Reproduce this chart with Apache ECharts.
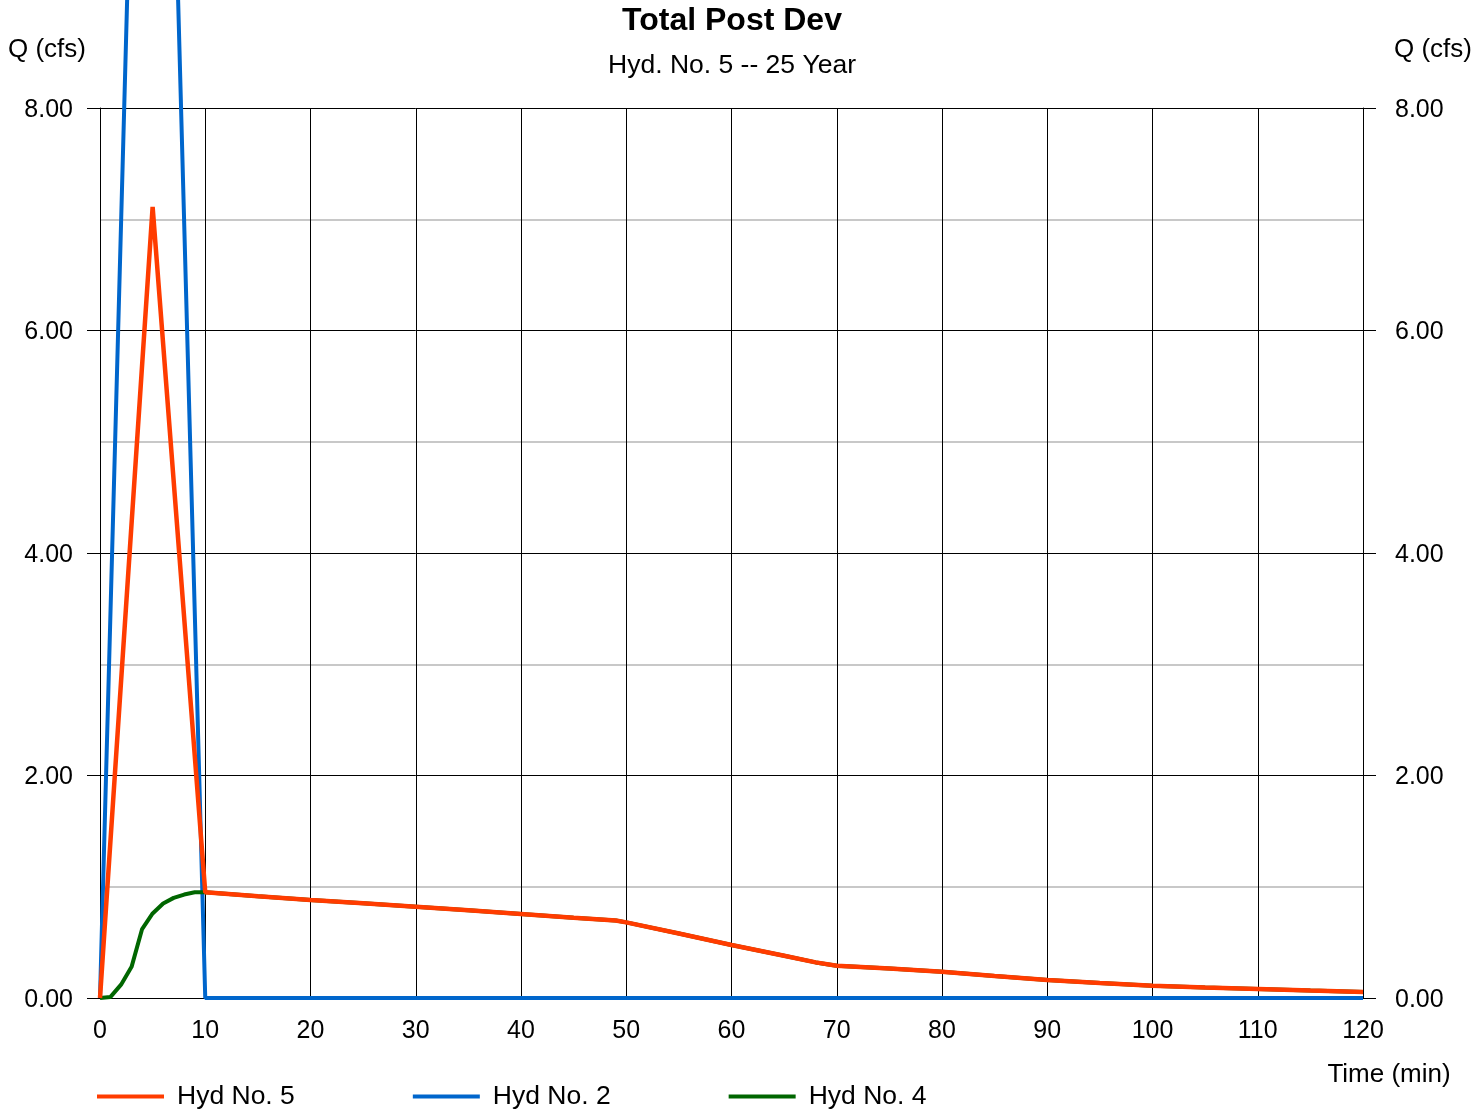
<!DOCTYPE html>
<html>
<head>
<meta charset="utf-8">
<script src="https://cdn.jsdelivr.net/npm/echarts@6/dist/echarts.min.js"></script>
<style>
  html, body { margin: 0; padding: 0; background: #fff; }
  #chart { width: 1473px; height: 1114px; }
</style>
</head>
<body>
<div id="chart"></div>
<script>
// time (min) / flow (cfs)
const hyd5Time = [0, 5, 10, 15, 20, 25, 30, 35, 40, 45, 49, 50, 55, 60, 65, 68, 70, 75, 80, 85, 90, 95, 100, 105, 110, 115, 120]
const hyd5Flow = [0, 7.11, 0.95, 0.915, 0.881, 0.851, 0.821, 0.788, 0.755, 0.722, 0.697, 0.68, 0.58, 0.476, 0.38, 0.32, 0.29, 0.265, 0.237, 0.198, 0.162, 0.135, 0.11, 0.095, 0.081, 0.067, 0.054]

const hyd2Time = [0, 5, 10, 120]
const hyd2Flow = [0, 17.4, 0, 0]

const hyd4Time = [0, 1, 2, 3, 4, 5, 6, 7, 8, 9, 10]
const hyd4Flow = [0, 0.01, 0.12, 0.28, 0.62, 0.76, 0.85, 0.9, 0.93, 0.95, 0.95]

const seriesNames = ['Hyd No. 5', 'Hyd No. 2', 'Hyd No. 4']
const xTicks = { min: 0, max: 120, step: 10 }
const yTicks = { min: 0, max: 8, step: 2 }

const FONT = 'Liberation Sans, Arial, sans-serif'

function pairs(xs, ys) {
    return xs.map((x, i) => [x, ys[i]])
}

// green joins the combined line after 10 min
const hyd4Data = pairs(hyd4Time, hyd4Flow).concat(pairs(hyd5Time, hyd5Flow).filter(p => p[0] > 10))

const yAxisBase = {
    type: 'value',
    min: yTicks.min,
    max: yTicks.max,
    interval: yTicks.step,
    axisLine: { show: true, lineStyle: { color: '#000', width: 1 } },
    axisTick: { show: true, length: 13, lineStyle: { color: '#000', width: 1 } },
    axisLabel: {
        color: '#000', fontSize: 25, fontFamily: FONT,
        formatter: v => '{v|' + v.toFixed(2) + '}',
        rich: { v: { color: '#000', fontSize: 25, fontFamily: FONT, padding: [4, 0, 0, 0] } }
    }
}

const chart = echarts.init(document.getElementById('chart'))

chart.setOption({
    animation: false,
    backgroundColor: '#fff',
    legend: {
        data: seriesNames,
        left: 92,
        top: 1078,
        icon: 'rect',
        itemWidth: 67,
        itemHeight: 4,
        itemGap: 118,
        textStyle: { color: '#000', fontSize: 26.5, fontFamily: FONT, padding: [0, 0, 0, 8] }
    },
    grid: { left: 100, right: 110, top: 108, bottom: 116 },
    xAxis: {
        type: 'value',
        min: xTicks.min,
        max: xTicks.max,
        interval: xTicks.step,
        axisLine: { show: true, onZero: false, lineStyle: { color: '#000', width: 1 } },
        axisTick: { show: false },
        axisLabel: { color: '#000', fontSize: 25, fontFamily: FONT, margin: 21 },
        splitLine: { show: true, lineStyle: { color: '#000', width: 1 } }
    },
    yAxis: [
        Object.assign({}, yAxisBase, {
            position: 'left',
            axisLabel: Object.assign({}, yAxisBase.axisLabel, { margin: 27 }),
            splitLine: { show: true, lineStyle: { color: '#000', width: 1 } },
            minorTick: { show: false, splitNumber: 2 },
            minorSplitLine: { show: true, lineStyle: { color: '#c8c8c8', width: 2 } }
        }),
        Object.assign({}, yAxisBase, {
            position: 'right',
            axisLabel: Object.assign({}, yAxisBase.axisLabel, { margin: 32 }),
            splitLine: { show: false }
        })
    ],
    graphic: [
        {
            type: 'text', x: 732, y: 21,
            style: { text: 'Total Post Dev', fill: '#000', fontSize: 32, fontWeight: 'bold', fontFamily: FONT, align: 'center', verticalAlign: 'middle' }
        },
        {
            type: 'text', x: 732, y: 66,
            style: { text: 'Hyd. No. 5 -- 25 Year', fill: '#000', fontSize: 26.5, fontFamily: FONT, align: 'center', verticalAlign: 'middle' }
        },
        { type: 'text', x: 47, y: 50, style: { text: 'Q (cfs)', fill: '#000', fontSize: 26, fontFamily: FONT, align: 'center', verticalAlign: 'middle' } },
        { type: 'text', x: 1433, y: 50, style: { text: 'Q (cfs)', fill: '#000', fontSize: 26, fontFamily: FONT, align: 'center', verticalAlign: 'middle' } },
        { type: 'text', x: 1389, y: 1075, style: { text: 'Time (min)', fill: '#000', fontSize: 26, fontFamily: FONT, align: 'center', verticalAlign: 'middle' } }
    ],
    series: [
        {
            name: 'Hyd No. 5',
            type: 'line',
            data: pairs(hyd5Time, hyd5Flow),
            symbol: 'none',
            clip: false,
            z: 5,
            lineStyle: { color: '#ff3c00', width: 4.5 },
            itemStyle: { color: '#ff3c00' }
        },
        {
            name: 'Hyd No. 2',
            type: 'line',
            data: pairs(hyd2Time, hyd2Flow),
            symbol: 'none',
            clip: false,
            z: 3,
            lineStyle: { color: '#0066cc', width: 4 },
            itemStyle: { color: '#0066cc' }
        },
        {
            name: 'Hyd No. 4',
            type: 'line',
            data: hyd4Data,
            symbol: 'none',
            clip: false,
            z: 4,
            lineStyle: { color: '#006600', width: 4 },
            itemStyle: { color: '#006600' }
        }
    ]
})
</script>
</body>
</html>
